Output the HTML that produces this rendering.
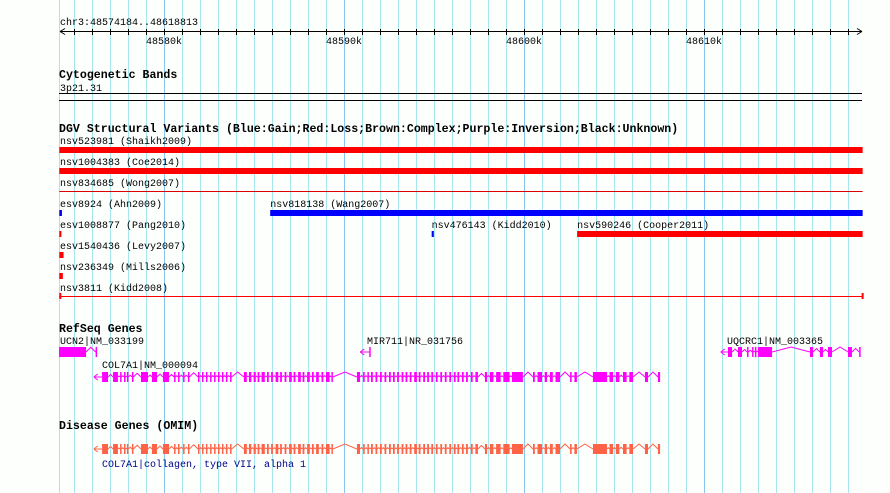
<!DOCTYPE html>
<html><head><meta charset="utf-8"><style>
html,body{margin:0;padding:0;background:#fff;}
svg{display:block;}
text{font-family:"Liberation Mono",monospace;font-size:10px;fill:#000;}
.t{font-weight:bold;font-size:11.6px;}
</style></head><body>
<svg id="c" width="890" height="493" xmlns="http://www.w3.org/2000/svg">
<rect width="890" height="493" fill="#fdfffd"/>
<g id="grid"></g>
<text x="60" y="25">chr3:48574184..48618813</text>
<g id="ruler"></g>
<text class="t" x="59" y="78">Cytogenetic Bands</text>
<text x="60" y="91">3p21.31</text>
<rect x="59" y="93" width="803" height="1" fill="#000"/>
<rect x="59" y="100" width="803" height="1" fill="#000"/>
<text class="t" x="59" y="132">DGV Structural Variants (Blue:Gain;Red:Loss;Brown:Complex;Purple:Inversion;Black:Unknown)</text>
<g id="dgv"></g>
<text class="t" x="59" y="332">RefSeq Genes</text>
<g id="genes"></g>
<text class="t" x="59" y="429">Disease Genes (OMIM)</text>
<g id="omim"></g>
</svg>
<script>
const NS="http://www.w3.org/2000/svg";
const startBp=48574184, endBp=48618813;
const tickLabels=["48580k","48590k","48600k","48610k"];
const tickValues=[48580000,48590000,48600000,48610000];
const variantNames=["nsv523981 (Shaikh2009)","nsv1004383 (Coe2014)","nsv834685 (Wong2007)","esv8924 (Ahn2009)","nsv818138 (Wang2007)","esv1008877 (Pang2010)","nsv476143 (Kidd2010)","nsv590246 (Cooper2011)","esv1540436 (Levy2007)","nsv236349 (Mills2006)","nsv3811 (Kidd2008)"];
const variantStart=[48574184,48574184,48574184,48574184,48585900,48574184,48594870,48602950,48574184,48574184,48574184];
const variantEnd=[48618813,48618813,48618813,48574330,48618813,48574300,48594990,48618813,48574420,48574380,48618813];
const variantColor=["#f00","#f00","#d00","#00f","#00f","#f00","#00f","#f00","#f00","#f00","#f00"];
const variantRow=[0,1,2,3,3,4,4,4,5,6,7];
const variantThin=[0,0,1,0,0,0,0,0,0,0,1];
// exons in kb relative to 48570000
const col7Exons=[[6.56,6.89],[7.17,7.44],[7.56,7.64],[7.78,7.86],[7.94,8.02],[8.22,8.3],[8.72,9.11],[9.33,9.61],[9.94,10.28],[10.56,10.64],[10.78,10.86],[11.06,11.14],[11.33,11.41],
[11.89,11.97],[12.11,12.19],[12.33,12.41],[12.56,12.64],[12.78,12.86],[13.0,13.08],[13.22,13.3],[13.44,13.52],[13.67,13.75],
[14.44,14.6],[14.72,14.85],[14.98,15.1],[15.2,15.3],[15.42,15.6],[15.72,15.82],[15.95,16.05],[16.2,16.35],[16.45,16.55],[16.7,16.8],[16.95,17.1],[17.2,17.3],[17.45,17.6],[17.7,17.8],[17.95,18.1],[18.22,18.32],[18.45,18.6],[18.75,18.85],[19.0,19.2],[19.3,19.38],
[20.72,20.89],[21.06,21.15],[21.3,21.38],[21.5,21.6],[21.75,21.85],[22.0,22.1],[22.25,22.35],[22.5,22.6],[22.72,22.82],[22.95,23.05],[23.2,23.3],[23.42,23.52],[23.65,23.75],[23.9,24.05],[24.15,24.25],[24.4,24.5],[24.62,24.72],[24.85,24.95],[25.1,25.2],[25.35,25.45],[25.6,25.7],[25.85,25.95],[26.1,26.2],[26.3,26.4],[26.55,26.65],[26.78,26.88],[27.05,27.15],[27.3,27.44],
[27.83,27.95],[28.1,28.3],[28.45,28.7],[28.85,29.2],[29.33,29.94],[30.5,30.6],[30.75,31.0],[31.15,31.28],[31.44,31.6],[31.75,32.0],[32.56,32.65],[32.8,32.94],[33.83,34.61],[34.75,34.95],[35.1,35.3],[35.5,35.7],[35.85,36.06],[36.72,36.89],[37.44,37.56]];
const ucn2Exons=[[4.17,5.67],[6.2,6.28]];
const mir711Exons=[[21.4,21.48]];
const uqcrcExons=[[41.33,41.56],[41.89,42.11],[42.39,42.47],[42.67,42.75],[42.83,42.9],[43.0,43.78],[45.89,46.06],[46.44,46.61],[46.89,47.11],[48.0,48.22],[48.62,48.67]];
const X=bp=>164+(bp-48580000)*0.018;
const K=kb=>X(48570000+kb*1000);
function el(tag,attrs,parent,name){const e=document.createElementNS(NS,tag);for(const k in attrs)e.setAttribute(k,attrs[k]);


parent.appendChild(e);return e;}
const grid=document.getElementById('grid');
el('line',{x1:59.5,x2:59.5,y1:0,y2:493,stroke:'#a8e6ee'},grid,'grid-line');
for(let b=48575000;b<=endBp;b+=1000){const x=Math.round(X(b))+0.5;const major=b%10000===0;
el('line',{x1:x,x2:x,y1:0,y2:493,stroke:major?'#88c4ec':'#a8e6ee'},grid,major?'grid-line-major':'grid-line');}
const ru=document.getElementById('ruler');
el('line',{x1:60,x2:862,y1:31.5,y2:31.5,stroke:'#000'},ru,'ruler-axis');
el('path',{d:'M60 31.5 l5 -3 M60 31.5 l5 3 M862 31.5 l-5 -3 M862 31.5 l-5 3',stroke:'#000',fill:'none'},ru,'ruler-arrows');
for(let b=48575000;b<=endBp;b+=1000){const x=Math.round(X(b))+0.5;el('line',{x1:x,x2:x,y1:29,y2:35,stroke:'#000'},ru,'ruler-tick');}
tickValues.forEach((v,i)=>{const t=el('text',{x:X(v)-18,y:44},ru,'ruler-label');t.textContent=tickLabels[i];});
const dg=document.getElementById('dgv');
variantNames.forEach((n,i)=>{const r=variantRow[i];const y0=140+r*21;
const x1=X(variantStart[i]),x2=X(variantEnd[i]);
const t=el('text',{x:Math.max(60,x1),y:y0+4},dg,'variant-label');t.textContent=n;
if(variantThin[i]){el('rect',{x:x1,y:y0+9,width:x2-x1,height:1,fill:variantColor[i]},dg,'variant-bar');
 if(i===10){el('rect',{x:x1,y:y0+6,width:2,height:6,fill:variantColor[i]},dg,'variant-end');el('rect',{x:x2-1,y:y0+6,width:2,height:6,fill:variantColor[i]},dg,'variant-end');}}
else el('rect',{x:x1,y:y0+7,width:Math.max(2,x2-x1),height:6,fill:variantColor[i]},dg,'variant-bar');});
function gene(exons,cy,color,parent,name,arrowKb){
const g=el('g',{},parent,name);
const xs=exons.map(e=>[K(e[0]),K(e[1])]);
for(let i=0;i<xs.length-1;i++){const a=xs[i][1],b=xs[i+1][0];if(b-a<1)continue;const m=(a+b)/2;const h=Math.min(5,(b-a)/2);
el('path',{d:`M${a} ${cy} L${m} ${cy-h} L${b} ${cy}`,stroke:color,fill:'none'},g,'intron');}
xs.forEach(e=>el('rect',{x:e[0],y:cy-5,width:Math.max(1.5,e[1]-e[0]),height:10,fill:color},g,'exon'));
if(arrowKb!==undefined){const ax=K(arrowKb);el('path',{d:`M${ax} ${cy} L${xs[0][0]} ${cy} M${ax} ${cy} l4 -3 M${ax} ${cy} l4 3`,stroke:color,fill:'none'},g,'strand-arrow');}
return g;}
const gn=document.getElementById('genes');
[['UCN2|NM_033199',60,344],['MIR711|NR_031756',367,344],['COL7A1|NM_000094',102,368],['UQCRC1|NM_003365',727,344]].forEach(a=>{const t=el('text',{x:a[1],y:a[2]},gn,'gene-label');t.textContent=a[0];});
gene(ucn2Exons,352,'#f0f',gn,'gene-ucn2');
gene(mir711Exons,352,'#f0f',gn,'gene-mir711',20.9);
gene(col7Exons,377,'#f0f',gn,'gene-col7a1',6.1);
gene(uqcrcExons,352,'#f0f',gn,'gene-uqcrc1',40.93);
const om=document.getElementById('omim');
gene(col7Exons,449,'#ff6347',om,'omim-col7a1',6.1);
const ol=el('text',{x:102,y:467,fill:'#00008b'},om,'omim-label');ol.textContent='COL7A1|collagen, type VII, alpha 1';ol.style.fill='#00008b';
</script>
</body></html>
